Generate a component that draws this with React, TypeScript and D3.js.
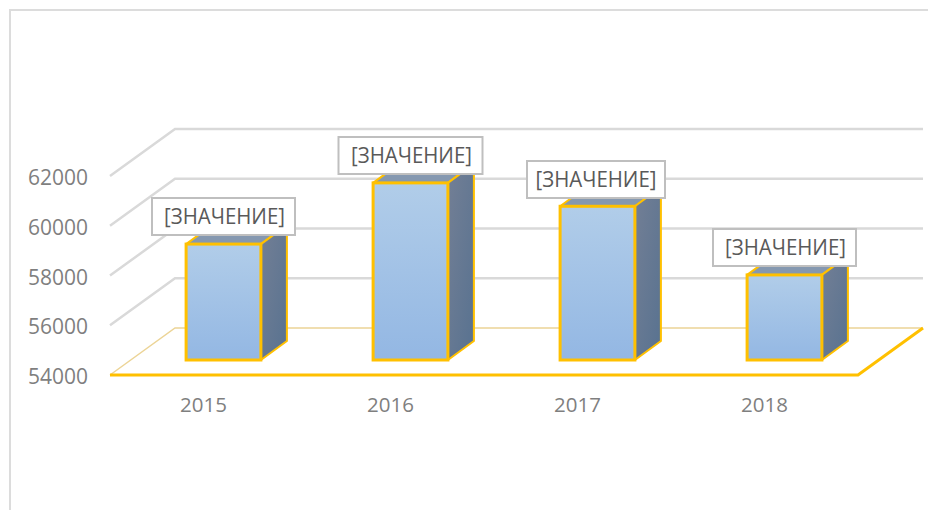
import React from "react";
import * as d3 from "d3";

const categories = ["2015", "2016", "2017", "2018"];
const values = [58660, 61120, 60180, 57420];
const tickValues = [54000, 56000, 58000, 60000, 62000];
const labelText = "[ЗНАЧЕНИЕ]";

const FONT = "'Open Sans', sans-serif";
const W = 928, H = 510;
const depth = { x: 65, y: -47 };
const barDepth = { x: 26, y: -19 };
const barLift = { x: 20, y: -15 };
const yellow = "#ffc000";
const grid = "#d9d9d9";

const x = d3.scaleBand<string>().domain(categories).range([110, 858]).paddingInner(0).paddingOuter(0);
const y = d3.scaleLinear().domain([54000, 62000]).range([375, 176]);
const barW = x.step() * 0.4;
const line = d3.line();

const labelOffsets = [
  { dx: 0, top: 198, w: 143 },
  { dx: 0, top: 137, w: 144 },
  { dx: -1.5, top: 161, w: 138 },
  { dx: 0, top: 229, w: 143 },
];

export default function App() {
  return (
    <svg width={W} height={H} style={{ position: "fixed", left: 0, top: 0 }}>
      <defs>
        <linearGradient id="front" x1="0" y1="0" x2="0" y2="1">
          <stop offset="0" stopColor="#b1cde9" />
          <stop offset="1" stopColor="#93b7e3" />
        </linearGradient>
        <linearGradient id="side" x1="0" y1="0" x2="1" y2="1">
          <stop offset="0" stopColor="#737f95" />
          <stop offset="1" stopColor="#587290" />
        </linearGradient>
      </defs>
      <rect width={W} height={H} fill="#fff" />
      <path d={`M10,510V10H928`} fill="none" stroke="#dcdcdc" strokeWidth={2} />

      {tickValues.map((t) => {
        const y0 = y(t);
        const floor = t === tickValues[0];
        return (
          <g key={t}>
            <path
              d={line([[110, y0], [110 + depth.x, y0 + depth.y], [858 + depth.x, y0 + depth.y]]) ?? ""}
              fill="none"
              stroke={floor ? "#ecd496" : grid}
              strokeWidth={floor ? 1.5 : 2.5}
            />
            <text x={88} y={y0 + 1.5} dy="0.36em" textAnchor="end" fontFamily={FONT} fontSize={21} fill="#7f7f7f">
              {t}
            </text>
          </g>
        );
      })}

      <path
        d={line([[110, y(54000)], [858, y(54000)], [858 + depth.x, y(54000) + depth.y]]) ?? ""}
        fill="none"
        stroke={yellow}
        strokeWidth={3}
      />

      {categories.map((c, i) => {
        const cx = (x(c) ?? 0) + x.bandwidth() / 2;
        const x0 = cx + barLift.x - barW / 2;
        const x1 = x0 + barW;
        const yb = y(54000) + barLift.y;
        const yt = yb - (y(54000) - y(values[i]));
        const dx = barDepth.x, dy = barDepth.y;
        return (
          <g key={c}>
            <polygon
              points={`${x0},${yt} ${x0 + dx},${yt + dy} ${x1 + dx},${yt + dy} ${x1},${yt}`}
              fill="#8598b0"
              stroke={yellow}
              strokeWidth={2}
              strokeLinejoin="round"
            />
            <polygon
              points={`${x1},${yt} ${x1 + dx},${yt + dy} ${x1 + dx},${yb + dy} ${x1},${yb}`}
              fill="url(#side)"
              stroke={yellow}
              strokeWidth={2}
              strokeLinejoin="round"
            />
            <rect x={x0} y={yt} width={barW} height={yb - yt} fill="url(#front)" stroke={yellow} strokeWidth={3} />
            <text x={cx} y={405} dy="0.36em" textAnchor="middle" fontFamily={FONT} fontSize={20.5} fill="#7f7f7f">
              {c}
            </text>
          </g>
        );
      })}

      {categories.map((c, i) => {
        const o = labelOffsets[i];
        const cx = (x(c) ?? 0) + x.bandwidth() / 2 + 20 + o.dx;
        const h = 37;
        return (
          <g key={c + "-label"}>
            <rect x={cx - o.w / 2} y={o.top} width={o.w} height={h} fill="#fff" stroke="#bfbfbf" strokeWidth={2} />
            <text
              x={cx + (i === 2 ? 0 : 1)}
              y={o.top + h / 2}
              dy="0.36em"
              textAnchor="middle"
              fontFamily={FONT}
              fontSize={21.5}
              fill="#595959"
              textLength={121}
              lengthAdjust="spacingAndGlyphs"
            >
              {labelText}
            </text>
          </g>
        );
      })}
    </svg>
  );
}
